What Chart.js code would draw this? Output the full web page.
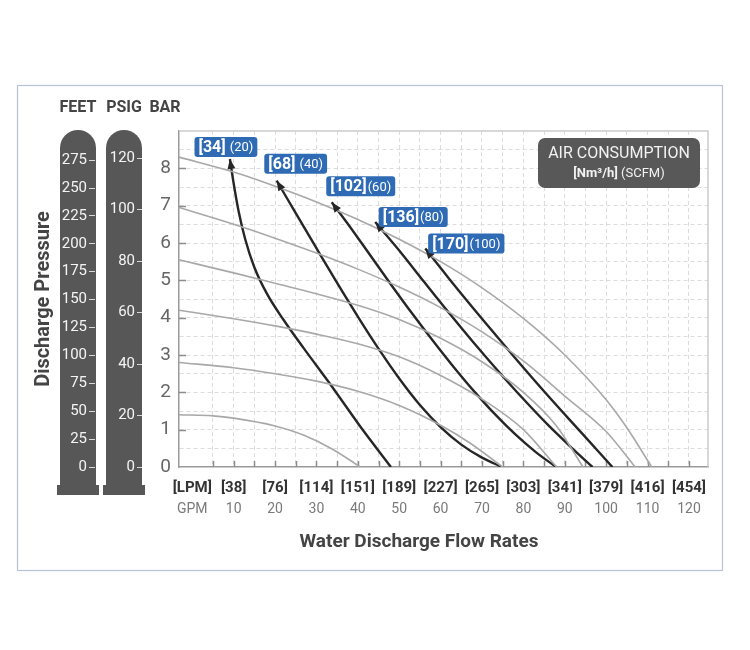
<!DOCTYPE html>
<html>
<head>
<meta charset="utf-8">
<script src="https://cdn.jsdelivr.net/npm/chart.js@4.4.0/dist/chart.umd.min.js"></script>
<style>
  html, body { margin: 0; padding: 0; background: #fff; }
</style>
</head>
<body>
<canvas id="pumpChart" width="750" height="650"></canvas>
<script>
// x axis: flow rate
const gpmTicks = [0, 10, 20, 30, 40, 50, 60, 70, 80, 90, 100, 110, 120];
const lpmLabels = ['[LPM]', '[38]', '[76]', '[114]', '[151]', '[189]', '[227]', '[265]', '[303]', '[341]', '[379]', '[416]', '[454]'];
const gpmLabels = ['GPM', '10', '20', '30', '40', '50', '60', '70', '80', '90', '100', '110', '120'];

// y axes: discharge pressure
const barTicks = [0, 1, 2, 3, 4, 5, 6, 7, 8];
const feetTicks = [0, 25, 50, 75, 100, 125, 150, 175, 200, 225, 250, 275];
const psiTicks = [0, 20, 40, 60, 80, 100, 120];

// air inlet pressure curves, [GPM, bar]
const inlet6 = [[-3.2, 8.3], [10, 7.9], [20, 7.52], [30, 7.1], [40, 6.63], [50, 6.1], [60, 5.5], [70, 4.8], [80, 3.98], [90, 3.0], [100, 1.8], [105, 1.05], [111, 0]];
const inlet5 = [[-3.2, 6.95], [10, 6.5], [20, 6.13], [30, 5.73], [40, 5.3], [50, 4.82], [60, 4.27], [70, 3.62], [80, 2.84], [90, 1.9], [100, 0.95], [107, 0]];
const inlet4 = [[-3.2, 5.55], [10, 5.2], [20, 4.92], [30, 4.64], [40, 4.33], [50, 3.95], [60, 3.45], [70, 2.82], [80, 2.0], [88, 1.1], [94.4, 0]];
const inlet3 = [[-3.2, 4.2], [10, 3.97], [20, 3.78], [30, 3.56], [40, 3.3], [50, 2.95], [60, 2.45], [70, 1.82], [80, 1.0], [88, 0]];
const inlet2 = [[-3.2, 2.8], [10, 2.66], [20, 2.5], [30, 2.3], [40, 2.03], [50, 1.65], [60, 1.12], [67, 0.65], [75, 0]];
const inlet1 = [[-3.2, 1.4], [5, 1.37], [10, 1.31], [20, 1.1], [27, 0.85], [34, 0.47], [40.6, 0]];

// air consumption curves, [GPM, bar], first point = arrow tip
const air20 = [[9.1, 8.25], [10, 7.6], [11.2, 6.85], [12.8, 6.1], [15, 5.35], [18, 4.65], [22, 3.95], [27, 3.17], [33, 2.27], [40.5, 1.1], [48, 0]];
const air40 = [[20.4, 7.67], [25, 6.8], [30, 5.86], [35, 4.93], [40, 4.03], [45, 3.17], [50, 2.37], [55, 1.66], [60, 1.07], [65, 0.6], [70, 0.25], [74.8, 0]];
const air60 = [[33.7, 7.09], [38, 6.45], [43, 5.67], [48, 4.89], [53, 4.13], [58, 3.4], [63, 2.7], [68, 2.04], [73, 1.43], [78, 0.88], [83, 0.4], [87.9, 0]];
const air80 = [[44.2, 6.56], [50, 5.8], [56, 4.96], [62, 4.13], [68, 3.33], [74, 2.56], [80, 1.82], [86, 1.12], [92, 0.48], [96.7, 0]];
const air100 = [[56.3, 5.85], [62, 5.05], [70, 3.97], [78, 2.92], [86, 1.9], [94, 0.92], [101.5, 0]];
const airNm3 = ['[34]', '[68]', '[102]', '[136]', '[170]'];
const airScfm = ['(20)', '(40)', '(60)', '(80)', '(100)'];

const FONT = "Roboto, 'Liberation Sans', sans-serif";
const FT_PER_BAR = 33.455;
const PSI_PER_BAR = 14.5038;
const X_MIN = -3.2, X_MAX = 124.6, BAR_MAX = 9;

// label box offsets from the arrow tip (px)
const boxOffsets = [[-4, -12], [19, -17], [29, -16], [38, -5], [41, -5]];

function toXY(pts) { return pts.map(p => ({x: p[0], y: p[1]})); }

function grayCurve(pts) {
    return {data: toXY(pts), borderColor: '#a8a8a8', borderWidth: 1.6, pointRadius: 0,
            cubicInterpolationMode: 'monotone', fill: false};
}
function blackCurve(pts) {
    return {data: toXY(pts), borderColor: '#262626', borderWidth: 2.4, pointRadius: 0,
            cubicInterpolationMode: 'monotone', fill: false};
}

function roundRect(ctx, x, y, w, h, r) {
    ctx.beginPath();
    ctx.moveTo(x + r, y);
    ctx.arcTo(x + w, y, x + w, y + h, r);
    ctx.arcTo(x + w, y + h, x, y + h, r);
    ctx.arcTo(x, y + h, x, y, r);
    ctx.arcTo(x, y, x + w, y, r);
    ctx.closePath();
}

const decorations = {
    id: 'decorations',
    beforeDraw(chart) {
        const {ctx, chartArea: a, scales} = chart;
        ctx.save();
        // outer frame
        ctx.strokeStyle = '#b8c2d6';
        ctx.lineWidth = 1.2;
        ctx.strokeRect(17.5, 85.5, 705, 485);

        // pills behind FEET / PSIG ticks
        ctx.fillStyle = '#575757';
        [[scales.yFeet, 17], [scales.yPsi, 18]].forEach(([s, off]) => {
            const cx = s.right - off, r = 18;
            const top = a.top - 1, bottom = a.bottom + 18;
            ctx.beginPath();
            ctx.moveTo(cx - r, bottom);
            ctx.lineTo(cx - r, top + r);
            ctx.arc(cx, top + r, r, Math.PI, 0);
            ctx.lineTo(cx + r, bottom);
            ctx.closePath();
            ctx.fill();
            ctx.fillRect(cx - 21, bottom, 42, 10);
        });

        // unit headers
        ctx.fillStyle = '#444';
        ctx.font = 'bold 16px ' + FONT;
        ctx.textAlign = 'center';
        ctx.textBaseline = 'middle';
        ctx.fillText('FEET', scales.yFeet.right - 17, 108);
        ctx.fillText('PSIG', scales.yPsi.right - 18, 108);
        ctx.fillText('BAR', 165, 108);

        // x title
        ctx.font = 'bold 19px ' + FONT;
        ctx.fillText('Water Discharge Flow Rates', 419, 542);
        ctx.restore();
    },
    beforeDatasetsDraw(chart) {
        const {ctx, chartArea: a, scales: {x, y}} = chart;
        ctx.save();
        // top and right plot frame
        ctx.strokeStyle = '#cccccc';
        ctx.lineWidth = 1.5;
        ctx.beginPath();
        ctx.moveTo(a.left, a.top);
        ctx.lineTo(a.right, a.top);
        ctx.lineTo(a.right, a.bottom);
        ctx.stroke();
        // inner tick marks
        ctx.strokeStyle = '#8c8c8c';
        ctx.beginPath();
        x.ticks.forEach(t => {
            if (t.value <= 0) return;
            const px = Math.round(x.getPixelForValue(t.value)) + 0.5;
            ctx.moveTo(px, a.bottom);
            ctx.lineTo(px, a.bottom - 6);
        });
        barTicks.forEach(v => {
            if (v === 0) return;
            const py = Math.round(y.getPixelForValue(v)) + 0.5;
            ctx.moveTo(a.left, py);
            ctx.lineTo(a.left + 7, py);
        });
        ctx.stroke();
        ctx.restore();
    },
    afterDatasetsDraw(chart) {
        const {ctx, chartArea: a} = chart;
        ctx.save();
        // arrow heads and labels on the air consumption curves
        for (let k = 0; k < 5; k++) {
            const meta = chart.getDatasetMeta(6 + k);
            const p0 = meta.data[0];
            const p1 = meta.data[1];
            const bx = (p0.cp2x !== undefined) ? p0.cp2x : p1.x;
            const by = (p0.cp2y !== undefined) ? p0.cp2y : p1.y;
            const ang = Math.atan2(p0.y - by, p0.x - bx);
            const len = 10, hw = 4;
            ctx.fillStyle = '#262626';
            ctx.beginPath();
            ctx.moveTo(p0.x, p0.y);
            ctx.lineTo(p0.x - len * Math.cos(ang) + hw * Math.sin(ang), p0.y - len * Math.sin(ang) - hw * Math.cos(ang));
            ctx.lineTo(p0.x - len * Math.cos(ang) - hw * Math.sin(ang), p0.y - len * Math.sin(ang) + hw * Math.cos(ang));
            ctx.closePath();
            ctx.fill();

            // label box
            ctx.font = 'bold 16px ' + FONT;
            const w1 = ctx.measureText(airNm3[k]).width;
            ctx.font = '13px ' + FONT;
            const w2 = ctx.measureText(airScfm[k]).width;
            const gap = k < 2 ? 4 : 1;
            const w = w1 + gap + w2 + 8, h = 20;
            const cx = p0.x + boxOffsets[k][0], cy = p0.y + boxOffsets[k][1];
            ctx.fillStyle = '#2f6bb4';
            roundRect(ctx, cx - w / 2, cy - h / 2, w, h, 3);
            ctx.fill();
            ctx.fillStyle = '#ffffff';
            ctx.textBaseline = 'middle';
            ctx.textAlign = 'left';
            ctx.font = 'bold 16px ' + FONT;
            ctx.fillText(airNm3[k], cx - w / 2 + 4, cy + 1);
            ctx.font = '13px ' + FONT;
            ctx.fillText(airScfm[k], cx - w / 2 + 4 + w1 + gap, cy + 1);
        }

        // air consumption legend box
        const lx = a.right - 170, ly = a.top + 7;
        ctx.fillStyle = '#585858';
        roundRect(ctx, lx, ly, 162, 50, 7);
        ctx.fill();
        ctx.fillStyle = '#f2f2f2';
        ctx.textAlign = 'center';
        ctx.textBaseline = 'middle';
        ctx.font = '16px ' + FONT;
        ctx.fillText('AIR CONSUMPTION', lx + 81, ly + 16);
        ctx.font = 'bold 13px ' + FONT;
        const t1 = '[Nm\u00b3/h]', t2 = ' (SCFM)';
        const tw1 = ctx.measureText(t1).width;
        ctx.font = '13px ' + FONT;
        const tw2 = ctx.measureText(t2).width;
        let sx = lx + 81 - (tw1 + tw2) / 2;
        ctx.textAlign = 'left';
        ctx.font = 'bold 13px ' + FONT;
        ctx.fillText(t1, sx, ly + 36);
        ctx.font = '13px ' + FONT;
        ctx.fillText(t2, sx + tw1, ly + 36);
        ctx.restore();
    }
};

const fiveSteps = [];
for (let v = 0; v <= 120; v += 5) fiveSteps.push(v);

const ctx = document.getElementById('pumpChart');
new Chart(ctx, {
    type: 'line',
    data: {
        datasets: [
            grayCurve(inlet6), grayCurve(inlet5), grayCurve(inlet4),
            grayCurve(inlet3), grayCurve(inlet2), grayCurve(inlet1),
            blackCurve(air20), blackCurve(air40), blackCurve(air60),
            blackCurve(air80), blackCurve(air100)
        ]
    },
    options: {
        responsive: false,
        animation: false,
        layout: {padding: {left: 25, top: 131, right: 42, bottom: 131}},
        plugins: {legend: {display: false}, tooltip: {enabled: false}},
        scales: {
            x: {
                type: 'linear', position: 'bottom', weight: 0,
                min: X_MIN, max: X_MAX,
                afterBuildTicks: s => { s.ticks = fiveSteps.map(v => ({value: v})); },
                afterFit: s => { s.height = 32; },
                ticks: {
                    autoSkip: false, maxRotation: 0, padding: 12, color: '#333',
                    font: {family: FONT, size: 15, weight: 'bold'},
                    callback: v => { const i = gpmTicks.indexOf(v); return i >= 0 ? lpmLabels[i] : ''; }
                },
                grid: {
                    drawTicks: false, lineWidth: 1,
                    color: c => (c.tick && c.tick.value > 0) ? '#dcdcdc' : 'rgba(0,0,0,0)'
                },
                border: {color: '#9a9a9a', width: 1.5, dash: [4, 3]}
            },
            x2: {
                type: 'linear', position: 'bottom', weight: 1,
                min: X_MIN, max: X_MAX,
                afterBuildTicks: s => { s.ticks = gpmTicks.map(v => ({value: v})); },
                afterFit: s => { s.height = 20; },
                ticks: {
                    autoSkip: false, maxRotation: 0, padding: 2, color: '#7a7a7a',
                    font: {family: FONT, size: 14},
                    callback: v => { const i = gpmTicks.indexOf(v); return i >= 0 ? gpmLabels[i] : ''; }
                },
                grid: {display: false, drawTicks: false},
                border: {display: false}
            },
            y: {
                type: 'linear', position: 'left', weight: 0,
                min: 0, max: BAR_MAX,
                afterBuildTicks: s => {
                    const t = [];
                    for (let v = 0; v <= BAR_MAX; v += 0.5) t.push({value: v});
                    s.ticks = t;
                },
                afterFit: s => { s.width = 37; },
                ticks: {
                    autoSkip: false, padding: 8, color: '#666',
                    font: {family: FONT, size: 19},
                    callback: v => barTicks.includes(v) ? String(v) : ''
                },
                grid: {
                    drawTicks: false, lineWidth: 1,
                    color: c => (c.tick && c.tick.value > 0 && c.tick.value < BAR_MAX) ? '#dcdcdc' : 'rgba(0,0,0,0)'
                },
                border: {color: '#9a9a9a', width: 1.5, dash: [4, 3]}
            },
            yPsi: {
                type: 'linear', position: 'left', weight: 1,
                min: 0, max: BAR_MAX * PSI_PER_BAR,
                afterBuildTicks: s => { s.ticks = psiTicks.map(v => ({value: v})); },
                afterFit: s => { s.width = 47; },
                ticks: {autoSkip: false, padding: 2, color: '#f4f4f4', font: {family: FONT, size: 15}},
                grid: {drawOnChartArea: false, tickLength: 5, tickColor: '#d8d8d8', lineWidth: 1},
                border: {display: false}
            },
            yFeet: {
                type: 'linear', position: 'left', weight: 2,
                min: 0, max: BAR_MAX * FT_PER_BAR,
                afterBuildTicks: s => { s.ticks = feetTicks.map(v => ({value: v})); },
                afterFit: s => { s.width = 70; },
                ticks: {autoSkip: false, padding: 2, color: '#f4f4f4', font: {family: FONT, size: 15}},
                grid: {drawOnChartArea: false, tickLength: 6, tickColor: '#d8d8d8', lineWidth: 1},
                border: {display: false},
                title: {
                    display: true, text: 'Discharge Pressure', color: '#444',
                    font: {family: FONT, size: 20, weight: 'bold'},
                    padding: {top: 7, bottom: 0}
                }
            }
        }
    },
    plugins: [decorations]
});
</script>
</body>
</html>
